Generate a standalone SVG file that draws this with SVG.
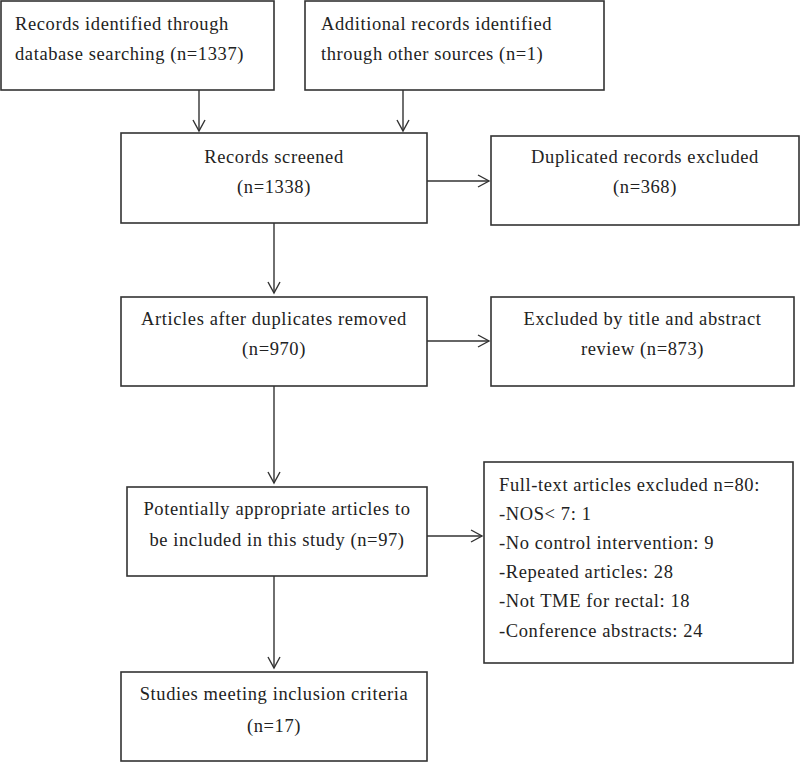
<svg xmlns="http://www.w3.org/2000/svg" width="800" height="763" viewBox="0 0 800 763">
<style>
.box{fill:#fff;stroke:#333;stroke-width:1.6}
.t{font-family:"Liberation Serif","Times New Roman",serif;font-size:18.5px;letter-spacing:0.6px;fill:#222}
.c{text-anchor:middle}
.conn line{stroke:#333;stroke-width:1.4;fill:none;marker-end:url(#ah)}
</style>
<defs>
<marker id="ah" markerUnits="userSpaceOnUse" markerWidth="16" markerHeight="16" viewBox="-12 -8 14 16" refX="0" refY="0" orient="auto">
<polyline points="-11,-6 0,0 -11,6" fill="none" stroke="#333" stroke-width="1.4"/>
</marker>
</defs>
<rect width="800" height="763" fill="#fff"/>
<g id="n1"><rect class="box" x="1" y="1" width="273" height="89"/>
<text class="t" x="15" y="30">Records identified through</text>
<text class="t" x="15" y="60">database searching (n=1337)</text></g>
<g id="n2"><rect class="box" x="305" y="1" width="299" height="89"/>
<text class="t" x="321" y="30">Additional records identified</text>
<text class="t" x="321" y="60">through other sources (n=1)</text></g>
<g id="n3"><rect class="box" x="121" y="133" width="306" height="90"/>
<text class="t c" x="274" y="163">Records screened</text>
<text class="t c" x="274" y="193">(n=1338)</text></g>
<g id="n4"><rect class="box" x="491" y="136" width="308" height="89"/>
<text class="t c" x="645" y="163">Duplicated records excluded</text>
<text class="t c" x="645" y="193">(n=368)</text></g>
<g id="n5"><rect class="box" x="121" y="297" width="306" height="89"/>
<text class="t c" x="274" y="325">Articles after duplicates removed</text>
<text class="t c" x="274" y="355">(n=970)</text></g>
<g id="n6"><rect class="box" x="491" y="297" width="303" height="89"/>
<text class="t c" x="642.5" y="325">Excluded by title and abstract</text>
<text class="t c" x="642.5" y="355">review (n=873)</text></g>
<g id="n7"><rect class="box" x="127" y="487" width="300" height="89"/>
<text class="t c" x="277" y="515">Potentially appropriate articles to</text>
<text class="t c" x="277" y="546">be included in this study (n=97)</text></g>
<g id="n8"><rect class="box" x="484" y="462" width="309" height="201"/>
<text class="t" x="499" y="491">Full-text articles excluded n=80:</text>
<text class="t" x="499" y="520">-NOS&lt; 7: 1</text>
<text class="t" x="499" y="549">-No control intervention: 9</text>
<text class="t" x="499" y="578">-Repeated articles: 28</text>
<text class="t" x="499" y="607">-Not TME for rectal: 18</text>
<text class="t" x="499" y="637">-Conference abstracts: 24</text></g>
<g id="n9"><rect class="box" x="121" y="672" width="306" height="89"/>
<text class="t c" x="274" y="700">Studies meeting inclusion criteria</text>
<text class="t c" x="274" y="732">(n=17)</text></g>
<g id="connectors" class="conn">
<line x1="199" y1="90" x2="199" y2="131"/>
<line x1="403" y1="90" x2="403" y2="131"/>
<line x1="427" y1="181" x2="489" y2="181"/>
<line x1="274" y1="223" x2="274" y2="293"/>
<line x1="427" y1="341" x2="489" y2="341"/>
<line x1="274" y1="386" x2="274" y2="483"/>
<line x1="427" y1="536" x2="482" y2="536"/>
<line x1="274" y1="576" x2="274" y2="668"/>
</g>
</svg>
